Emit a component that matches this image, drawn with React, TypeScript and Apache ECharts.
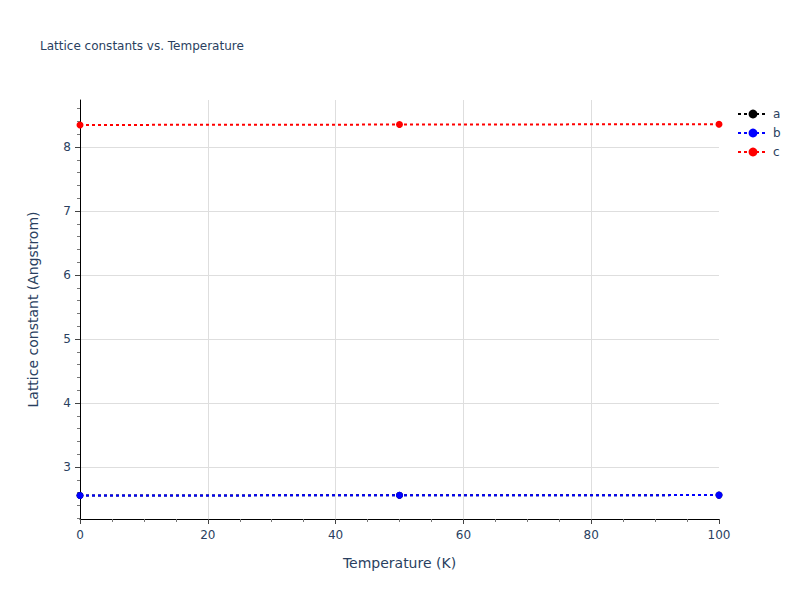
import React, { useEffect, useRef } from "react";
import * as echarts from "echarts";

const temperatures = [0, 50, 100];
const latticeA = [2.555, 2.558, 2.561];
const latticeB = [2.555, 2.558, 2.561];
const latticeC = [8.344, 8.35, 8.356];

const yMajorTicks = [3, 4, 5, 6, 7, 8];
const yMinorTicks: number[] = [];
for (let i = 11; i <= 43; i++) {
  if (i % 5 !== 0) yMinorTicks.push(Math.round(i * 20) / 100);
}

const FONT = '"DejaVu Sans", verdana, arial, sans-serif';
const TEXT = "#2a3f5f";

export default function App() {
  const chartRef = useRef<HTMLDivElement>(null);

  useEffect(() => {
    document.body.style.margin = "0";
    if (!chartRef.current) return;
    const chart = echarts.init(chartRef.current, undefined, { renderer: "svg" });

    const makeSeries = (name: string, values: number[], color: string) => ({
      name,
      type: "line",
      data: temperatures.map((t, i) => [t, values[i]]),
      symbol: "circle",
      symbolSize: 7,
      itemStyle: { color },
      lineStyle: { color, width: 2, type: [3, 3] },
    });

    chart.setOption({
      animation: false,
      textStyle: { fontFamily: FONT },
      title: {
        text: "Lattice constants vs. Temperature",
        left: 40,
        top: 40,
        padding: 0,
        textStyle: { fontSize: 12, fontWeight: "normal", color: TEXT, fontFamily: FONT },
      },
      legend: {
        orient: "vertical",
        left: 737,
        top: 108,
        padding: 0,
        itemWidth: 30,
        itemHeight: 11,
        itemGap: 7,
        textStyle: { fontSize: 12, color: TEXT, fontFamily: FONT },
        data: ["a", "b", "c"],
      },
      grid: {
        left: 80,
        right: 81,
        top: 100,
        bottom: 81,
        containLabel: false,
        outerBoundsMode: "none",
      },
      xAxis: {
        type: "value",
        min: 0,
        max: 100,
        interval: 20,
        name: "Temperature (K)",
        nameLocation: "middle",
        nameGap: 37,
        nameTextStyle: { fontSize: 14, color: TEXT, fontFamily: FONT },
        axisLine: { show: true, lineStyle: { color: "#000", width: 1 } },
        axisTick: { show: true, length: 5, lineStyle: { color: "#444" } },
        minorTick: { show: true, splitNumber: 4, length: 3, lineStyle: { color: "#777" } },
        axisLabel: { fontSize: 12, color: TEXT, margin: 10, fontFamily: FONT },
        splitLine: { show: true, showMinLine: false, showMaxLine: false, lineStyle: { color: "#dedede" } },
      },
      yAxis: [
        {
          type: "value",
          min: 2.1875,
          max: 8.734,
          position: "left",
          name: "Lattice constant (Angstrom)",
          nameLocation: "middle",
          nameGap: 40,
          nameTextStyle: { fontSize: 14, color: TEXT, fontFamily: FONT },
          axisLine: { show: true, lineStyle: { color: "#000", width: 1 } },
          axisTick: { show: true, length: 5, customValues: yMajorTicks, lineStyle: { color: "#444" } },
          axisLabel: { fontSize: 12, color: TEXT, margin: 9, customValues: yMajorTicks, fontFamily: FONT },
          splitLine: { show: true, lineStyle: { color: "#dedede" } },
        },
        {
          type: "value",
          min: 2.1875,
          max: 8.734,
          position: "left",
          axisLine: { show: false },
          axisTick: { show: true, length: 3, customValues: yMinorTicks, lineStyle: { color: "#777" } },
          axisLabel: { show: false },
          splitLine: { show: false },
        },
      ],
      series: [
        makeSeries("a", latticeA, "#000000"),
        makeSeries("b", latticeB, "#0000ff"),
        makeSeries("c", latticeC, "#ff0000"),
      ],
    });

    return () => chart.dispose();
  }, []);

  return <div ref={chartRef} style={{ width: 800, height: 600 }} />;
}
